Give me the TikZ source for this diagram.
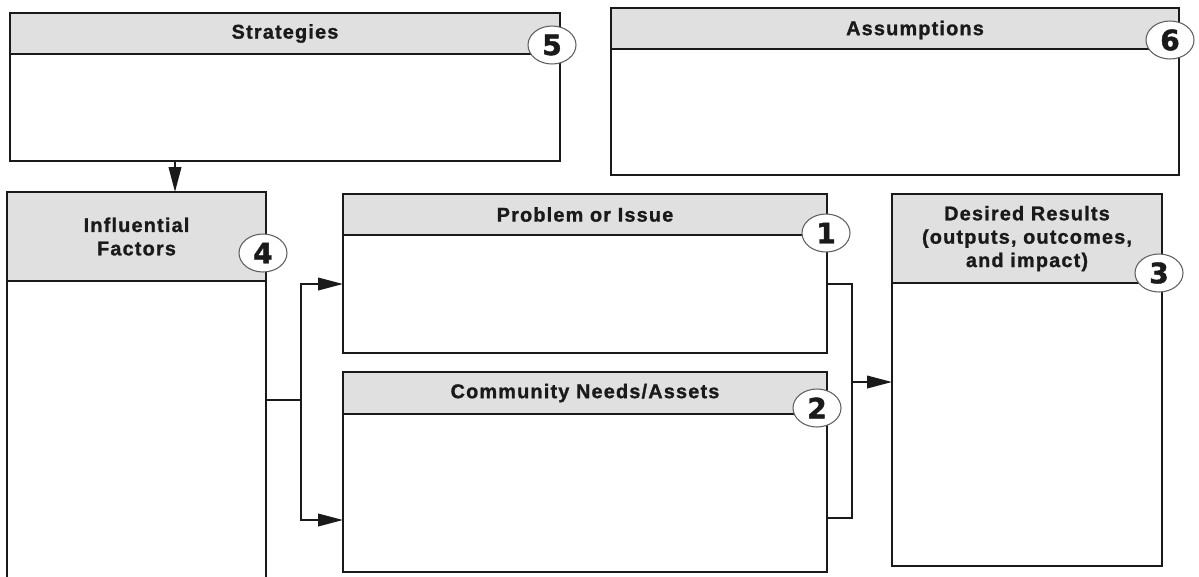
\documentclass[tikz,border=0pt]{standalone}
\usepackage{fontspec}
\setmainfont{Liberation Sans}
\newfontfamily\headfont[LetterSpace=6,BoldFeatures={FakeBold=1.2}]{Liberation Sans}
\newfontfamily\badgefont[BoldFeatures={FakeBold=1.5}]{DejaVu Sans}
\usepackage{tikz}
\usetikzlibrary{arrows.meta,shapes.geometric,calc}
\definecolor{headgray}{RGB}{224,224,224}
\definecolor{ink}{RGB}{26,26,26}
\tikzset{
  panel/.style={rectangle,draw=ink,line width=0.9pt,fill=white,inner sep=0pt,outer sep=0pt},
  head/.style={rectangle,draw=ink,line width=0.9pt,fill=headgray,inner sep=0pt,outer sep=0pt,
    anchor=north,align=center,text=ink,font=\headfont\bfseries\fontsize{11.3}{13.3}\selectfont},
  headtext/.style={text=ink,font=\headfont\bfseries\fontsize{11.3}{13.3}\selectfont},
  badge/.style={ellipse,draw=ink!70,line width=0.6pt,fill=white,minimum width=0.96cm,
    minimum height=0.76cm,inner sep=0pt,text=ink,font=\badgefont\bfseries\fontsize{16}{16}\selectfont},
  link/.style={draw=ink,line width=1.2pt},
  arr/.style={link,-{Triangle[length=0.5cm,width=0.25cm]}}
}
\begin{document}
\begin{tikzpicture}[x=0.02cm,y=-0.02cm]
\useasboundingbox (0,0) rectangle (1199,576);

\node (strat) at (285,87)[panel,minimum width=11cm,minimum height=2.96cm] {};
\node (strath) at (strat.north)[head,minimum width=11cm,minimum height=0.82cm] {Strategies};
\node (assum) at (895,91.5)[panel,minimum width=11.36cm,minimum height=3.34cm] {};
\node (assumh) at (assum.north)[head,minimum width=11.36cm,minimum height=0.82cm] {};
\node (assumt) at (915,30)[headtext] {Assumptions};
\node (infl) at (136.5,386)[panel,minimum width=5.18cm,minimum height=7.76cm] {};
\node (inflh) at (infl.north)[head,minimum width=5.18cm,minimum height=1.78cm] {Influential\\Factors};
\node (prob) at (585,273.5)[panel,minimum width=9.68cm,minimum height=3.18cm] {};
\node (probh) at (prob.north)[head,minimum width=9.68cm,minimum height=0.82cm] {Problem or Issue};
\node (comm) at (585,472)[panel,minimum width=9.68cm,minimum height=4cm] {};
\node (commh) at (comm.north)[head,minimum width=9.68cm,minimum height=0.84cm] {Community Needs/Assets};
\node (des) at (1027,380)[panel,minimum width=5.4cm,minimum height=7.44cm] {};
\node (desh) at (des.north)[head,minimum width=5.4cm,minimum height=1.78cm] {Desired Results\\(outputs, outcomes,\\and impact)};

\node (b1) at (826,233)[badge] {1};
\node (b2) at (817,408)[badge] {2};
\node (b3) at (1159,273)[badge] {3};
\node (b4) at (263,253)[badge] {4};
\node (b5) at (552,45)[badge] {5};
\node (b6) at (1170,40)[badge] {6};

\coordinate (down) at (175,161);
\coordinate (fork) at (301,400);
\coordinate (fa) at (301,284);
\coordinate (fb) at (301,520);
\coordinate (ja) at (852,284);
\coordinate (jb) at (852,518);
\coordinate (join) at (852,382);

\draw[arr] (down) to (down |- infl.north);
\draw[link] (fork -| infl.east) to (fork);
\draw[arr] (fork) -- (fa) -- (fa -| prob.west);
\draw[arr] (fork) -- (fb) -- (fb -| comm.west);
\draw[link] (ja -| prob.east) -- (ja) -- (jb) -- (jb -| comm.east);
\draw[arr] (join) to (join -| des.west);

\end{tikzpicture}
\end{document}
